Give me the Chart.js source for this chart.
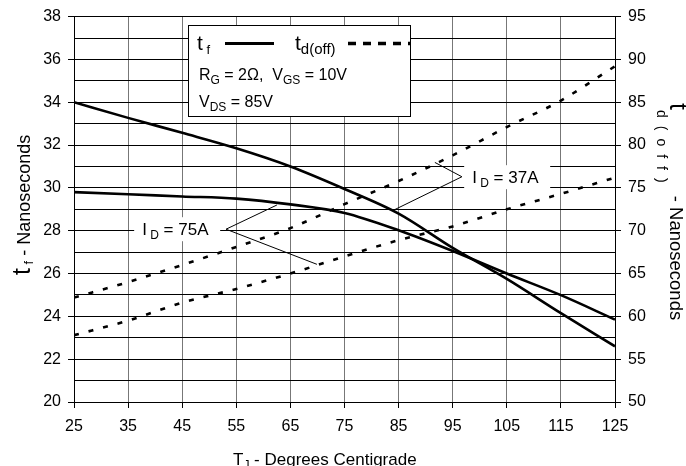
<!DOCTYPE html>
<html lang="en">
<head>
  <meta charset="UTF-8" />
  <title>tf / td(off) vs Junction Temperature</title>
  <script src="https://cdn.jsdelivr.net/npm/chart.js"></script>
  <style>
    body {
      margin: 0;
      background: #ffffff;
    }
    #chart {
      display: block;
    }
  </style>
</head>
<body>
  <canvas id="chart" width="686" height="466"></canvas>

  <script>
    // junction temperature (x) and the four curves
    const temps = [25, 35, 45, 55, 65, 75, 85, 95, 105, 115, 125];
    const tf37 = [34.0, 33.27, 32.57, 31.85, 31.0, 29.95, 28.8, 27.2, 25.75, 24.15, 22.6];
    const tf75 = [29.8, 29.7, 29.6, 29.5, 29.23, 28.83, 28.02, 27.05, 26.0, 24.99, 23.85];
    const td37 = [62.2, 64.0, 66.0, 68.1, 70.3, 73.1, 75.8, 78.8, 82.1, 85.2, 89.2];
    const td75 = [57.8, 59.5, 61.6, 63.2, 65.0, 67.0, 68.9, 70.5, 72.5, 74.3, 76.2];

    // axis ticks
    const tempTicks = [25, 35, 45, 55, 65, 75, 85, 95, 105, 115, 125];
    const tfGrid = [20, 21, 22, 23, 24, 25, 26, 27, 28, 29, 30, 31, 32, 33, 34, 35, 36, 37, 38];
    const tfLabels = [20, 22, 24, 26, 28, 30, 32, 34, 36, 38];
    const tdTicks = [50, 55, 60, 65, 70, 75, 80, 85, 90, 95];

    const FONT = 'Arial, "Liberation Sans", sans-serif';

    // draw text made of pieces (for subscripts)
    function rich(ctx, parts, x, y) {
      let cx = x;
      parts.forEach(p => {
        ctx.font = p[1] + 'px ' + FONT;
        const sp = p[3] || 0;
        if (sp) {
          for (const ch of p[0]) {
            ctx.fillText(ch, cx, y + (p[2] || 0));
            cx += ctx.measureText(ch).width + sp;
          }
        } else {
          ctx.fillText(p[0], cx, y + (p[2] || 0));
          cx += ctx.measureText(p[0]).width;
        }
      });
      return cx;
    }

    // I_D callouts, in data units of the tf axis
    const notes = [
      { parts: [['I', 17], [' D', 12, 4], [' = 75A', 17]], at: [37.6, 28.07], apex: [53.1, 28.07],
        to: [[62.5, 29.2], [69.9, 26.43]] },
      { parts: [['I', 17], [' D', 12, 4], [' = 37A', 17]], at: [98.6, 30.5], apex: [96.7, 30.52],
        to: [[91.7, 31.19], [84.0, 28.95]] }
    ];

    const overlay = {
      id: 'overlay',
      afterDraw(chart) {
        const ctx = chart.ctx;
        const { x, y } = chart.scales;
        ctx.save();
        ctx.fillStyle = '#000';
        ctx.textBaseline = 'alphabetic';
        ctx.textAlign = 'left';

        // callouts
        notes.forEach(n => {
          const lx = x.getPixelForValue(n.at[0]);
          const ly = y.getPixelForValue(n.at[1]);
          ctx.fillStyle = '#fff';
          ctx.fillRect(lx - 8, ly - 12, 86, 24);
          ctx.fillStyle = '#000';
          rich(ctx, n.parts, lx, ly + 6);
          const ax = x.getPixelForValue(n.apex[0]);
          const ay = y.getPixelForValue(n.apex[1]);
          ctx.strokeStyle = '#000';
          ctx.lineWidth = 1;
          n.to.forEach(t => {
            ctx.beginPath();
            ctx.moveTo(ax, ay);
            ctx.lineTo(x.getPixelForValue(t[0]), y.getPixelForValue(t[1]));
            ctx.stroke();
          });
        });

        // legend box
        ctx.fillStyle = '#fff';
        ctx.fillRect(188, 25, 222, 91);
        ctx.strokeStyle = '#000';
        ctx.lineWidth = 1;
        ctx.strokeRect(188.5, 25.5, 222, 91);
        ctx.fillStyle = '#000';
        rich(ctx, [['t', 21], [' f', 13, 4]], 197, 50);
        ctx.lineWidth = 3;
        ctx.beginPath();
        ctx.moveTo(225, 43.5);
        ctx.lineTo(274, 43.5);
        ctx.stroke();
        rich(ctx, [['t', 21], ['d(off)', 15, 4]], 295, 50);
        ctx.setLineDash([8, 7]);
        ctx.lineWidth = 3.5;
        ctx.beginPath();
        ctx.moveTo(348, 43.5);
        ctx.lineTo(410, 43.5);
        ctx.stroke();
        ctx.setLineDash([]);
        rich(ctx, [['R', 16], ['G', 12, 4], [' = 2Ω,  V', 16], ['GS', 12, 4], [' = 10V', 16]], 199, 80);
        rich(ctx, [['V', 16], ['DS', 12, 4], [' = 85V', 16]], 199, 107);

        // left axis title
        ctx.save();
        ctx.translate(30, 275);
        ctx.rotate(-Math.PI / 2);
        rich(ctx, [['t', 25], [' f', 13, 3], [' - Nanoseconds', 18]], 0, 0);
        ctx.restore();

        // right axis title
        ctx.save();
        ctx.translate(670, 103);
        ctx.rotate(Math.PI / 2);
        rich(ctx, [['t', 25], ['d(off)', 14, 13, 8], [' - Nanoseconds', 18.5]], 0, 0);
        ctx.restore();

        // x axis title
        rich(ctx, [['T', 17], ['J', 12, 4], [' - Degrees Centigrade', 17]], 233, 465);

        ctx.restore();
      }
    };

    const pts = arr => temps.map((t, i) => ({ x: t, y: arr[i] }));

    const solid = { borderColor: '#000', borderWidth: 2.6, pointRadius: 0, fill: false, cubicInterpolationMode: 'monotone' };
    const dashed = { ...solid, borderWidth: 2.6, borderDash: [5, 10] };

    new Chart(document.getElementById('chart'), {
      type: 'line',
      data: {
        datasets: [
          { ...solid, label: 'tf 37A', data: pts(tf37), yAxisID: 'y' },
          { ...solid, label: 'tf 75A', data: pts(tf75), yAxisID: 'y' },
          { ...dashed, label: 'td(off) 37A', data: pts(td37), yAxisID: 'y2' },
          { ...dashed, label: 'td(off) 75A', data: pts(td75), yAxisID: 'y2' }
        ]
      },
      options: {
        responsive: false,
        animation: false,
        devicePixelRatio: 1,
        layout: { padding: { top: 16, left: 0, right: 0, bottom: 0 } },
        plugins: {
          legend: { display: false },
          tooltip: { enabled: false }
        },
        scales: {
          x: {
            type: 'linear',
            min: 25,
            max: 125,
            afterBuildTicks: s => { s.ticks = tempTicks.map(v => ({ value: v })); },
            afterFit: s => { s.height = 64; },
            ticks: { color: '#000', font: { family: FONT, size: 16 }, padding: 9, maxRotation: 0, autoSkip: false },
            grid: { color: '#777', lineWidth: 1, tickLength: 6, tickColor: '#000' },
            border: { color: '#000', width: 1 }
          },
          y: {
            position: 'left',
            min: 20,
            max: 38,
            afterBuildTicks: s => { s.ticks = tfGrid.map(v => ({ value: v })); },
            afterFit: s => { s.width = 74; },
            ticks: {
              color: '#000', font: { family: FONT, size: 16 }, padding: 7, autoSkip: false,
              callback: v => tfLabels.includes(v) ? String(v) : ''
            },
            grid: {
              color: '#000', lineWidth: 1, tickLength: 6,
              tickColor: c => (c.tick && tfLabels.includes(c.tick.value)) ? '#000' : 'rgba(0,0,0,0)'
            },
            border: { color: '#000', width: 1 }
          },
          y2: {
            position: 'right',
            min: 50,
            max: 95,
            afterBuildTicks: s => { s.ticks = tdTicks.map(v => ({ value: v })); },
            afterFit: s => { s.width = 71; },
            ticks: { color: '#000', font: { family: FONT, size: 16 }, padding: 7, autoSkip: false },
            grid: { drawOnChartArea: false, tickLength: 6, tickColor: '#000' },
            border: { color: '#000', width: 1 }
          }
        }
      },
      plugins: [overlay]
    });
  </script>
</body>
</html>
